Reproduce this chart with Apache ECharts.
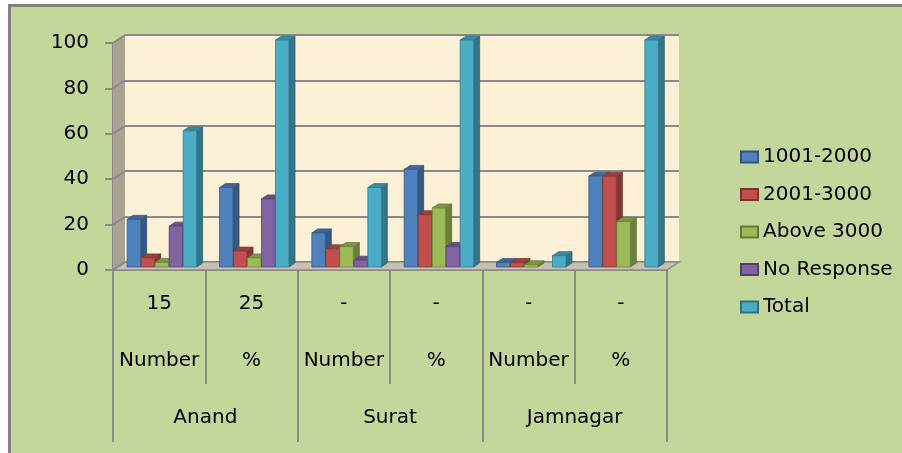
<!DOCTYPE html>
<html>
<head>
<meta charset="utf-8">
<script src="https://cdn.jsdelivr.net/npm/echarts@6/dist/echarts.min.js"></script>
<style>
  html, body { margin: 0; padding: 0; background: #ffffff; }
  #chart { width: 902px; height: 453px; }
</style>
</head>
<body>
<div id="chart"></div>
<script>
// ---- data ----
const CATEGORIES_TOP = ['15', '25', '-', '-', '-', '-'];
const CATEGORIES_MID = ['Number', '%', 'Number', '%', 'Number', '%'];
const CITIES = ['Anand', 'Surat', 'Jamnagar'];
const SERIES_NAMES = ['1001-2000', '2001-3000', 'Above 3000', 'No Response', 'Total'];
const S_1001_2000 = [21, 35, 15, 43, 2, 40];
const S_2001_3000 = [4, 7, 8, 23, 2, 40];
const S_ABOVE_3000 = [2, 4, 9, 26, 1, 20];
const S_NO_RESPONSE = [18, 30, 3, 9, 0, 0];
const S_TOTAL = [60, 100, 35, 100, 5, 100];
const Y_TICKS = [0, 20, 40, 60, 80, 100];

// ---- styling / layout ----
const COLORS = ['#4f81bd', '#c0504d', '#9bbb59', '#8064a2', '#4bacc6'];
const FONT = 'DejaVu Sans';
const GRAY = '#8a8a8a';
const FRONT = { left: 113, top: 43, width: 554, height: 227 };
const DEPTH_DX = 12, DEPTH_DY = -8;
const BAR_W = 13.5, BAR_PITCH = 14, BAR_SHIFT_X = 3, BAR_SHIFT_Y = -3;
const BAR_DX = 6, BAR_DY = -4;

const SERIES_VALUES = [S_1001_2000, S_2001_3000, S_ABOVE_3000, S_NO_RESPONSE, S_TOTAL];

function darken(hex, f) {
  const n = parseInt(hex.slice(1), 16);
  const r = Math.round(((n >> 16) & 255) * f);
  const g = Math.round(((n >> 8) & 255) * f);
  const b = Math.round((n & 255) * f);
  return 'rgb(' + r + ',' + g + ',' + b + ')';
}

function barRenderer(k) {
  return function (params, api) {
    const i = api.value(0), v = api.value(1);
    if (!v) return null;
    const base = api.coord([i, 0]);
    const top = api.coord([i, v]);
    const n = SERIES_VALUES.length;
    const x0 = base[0] + BAR_SHIFT_X - (n * BAR_PITCH) / 2 + k * BAR_PITCH;
    const x1 = x0 + BAR_W;
    const yb = base[1] + BAR_SHIFT_Y;
    const yt = top[1] + BAR_SHIFT_Y;
    const c = COLORS[k];
    const edge = darken(c, 0.7);
    return {
      type: 'group',
      children: [
        { type: 'polygon', shape: { points: [[x1, yt], [x1 + BAR_DX, yt + BAR_DY], [x1 + BAR_DX, yb + BAR_DY], [x1, yb]] },
          style: { fill: darken(c, 0.68), stroke: darken(c, 0.6), lineWidth: 0.8 } },
        { type: 'polygon', shape: { points: [[x0, yt], [x0 + BAR_DX, yt + BAR_DY], [x1 + BAR_DX, yt + BAR_DY], [x1, yt]] },
          style: { fill: darken(c, 0.8), stroke: edge, lineWidth: 0.8 } },
        { type: 'rect', shape: { x: x0, y: yt, width: BAR_W, height: yb - yt },
          style: { fill: c, stroke: edge, lineWidth: 0.8 } }
      ]
    };
  };
}

const barSeries = SERIES_NAMES.map((name, k) => ({
  name: name,
  type: 'custom',
  xAxisIndex: 0, yAxisIndex: 0,
  z: 5,
  itemStyle: { color: COLORS[k], borderColor: darken(COLORS[k], 0.65), borderWidth: 1.5 },
  renderItem: barRenderer(k),
  data: SERIES_VALUES[k].map((v, i) => [i, v])
}));

const wallLineSeries = {
  type: 'custom',
  xAxisIndex: 0, yAxisIndex: 0,
  z: 3,
  silent: true,
  renderItem: function (params, api) {
    const p = api.coord([0, api.value(1)]);
    const x = params.coordSys.x;
    return { type: 'line', shape: { x1: x, y1: p[1], x2: x + DEPTH_DX, y2: p[1] + DEPTH_DY },
      style: { stroke: GRAY, lineWidth: 2 } };
  },
  data: Y_TICKS.map(v => [0, v])
};

const L = FRONT.left, T = FRONT.top, R = FRONT.left + FRONT.width, B = FRONT.top + FRONT.height;

const option = {
  backgroundColor: '#ffffff',
  animation: false,
  textStyle: { fontFamily: FONT },
  graphic: [
    { type: 'rect', z: -100, shape: { x: 9.5, y: 5.5, width: 1000, height: 600 },
      style: { fill: '#c4d79b', stroke: '#808080', lineWidth: 3 } },
    { type: 'polygon', z: 1, shape: { points: [[L, T], [L + DEPTH_DX, T + DEPTH_DY], [L + DEPTH_DX, B + DEPTH_DY], [L, B]] },
      style: { fill: '#aba391' } },
    { type: 'polygon', z: 1, shape: { points: [[L, B], [L + DEPTH_DX, B + DEPTH_DY], [R + DEPTH_DX, B + DEPTH_DY], [R, B]] },
      style: { fill: '#c9c1b0', stroke: GRAY, lineWidth: 1.5 } }
  ],
  legend: {
    orient: 'vertical',
    left: 735, top: 142,
    itemWidth: 17, itemHeight: 11,
    itemGap: 17.5,
    icon: 'rect',
    data: SERIES_NAMES,
    textStyle: { fontFamily: FONT, fontSize: 20, color: '#000', lineHeight: 20 }
  },
  grid: [
    { left: FRONT.left, top: FRONT.top, width: FRONT.width, height: FRONT.height },
    { left: FRONT.left + DEPTH_DX, top: FRONT.top + DEPTH_DY, width: FRONT.width, height: FRONT.height,
      show: true, backgroundColor: '#fcf0d6', borderWidth: 0 },
    { left: FRONT.left, top: FRONT.top, width: FRONT.width, height: FRONT.height }
  ],
  xAxis: [
    { gridIndex: 0, type: 'category', data: CATEGORIES_TOP,
      axisLine: { show: true, lineStyle: { color: GRAY, width: 2 } },
      axisTick: { show: true, length: 114, lineStyle: { color: GRAY, width: 2 } },
      axisLabel: { interval: 0, margin: 5, fontSize: 20, lineHeight: 57, color: '#000', fontFamily: FONT,
        formatter: (v, i) => v + '\n' + CATEGORIES_MID[i] } },
    { gridIndex: 1, type: 'category', data: CATEGORIES_TOP, show: false },
    { gridIndex: 2, type: 'category', data: CITIES,
      axisLine: { show: false },
      axisTick: { show: true, length: 172, lineStyle: { color: GRAY, width: 2 } },
      axisLabel: { interval: 0, margin: 138, fontSize: 20, lineHeight: 20, color: '#000', fontFamily: FONT } }
  ],
  yAxis: [
    { gridIndex: 0, type: 'value', min: 0, max: 100, interval: 20,
      axisLine: { show: true, lineStyle: { color: GRAY, width: 2 } },
      axisTick: { show: true, length: 8, lineStyle: { color: GRAY, width: 2 } },
      splitLine: { show: false },
      axisLabel: { margin: 24, fontSize: 20, color: '#000', fontFamily: FONT } },
    { gridIndex: 1, type: 'value', min: 0, max: 100, interval: 20,
      axisLine: { show: false }, axisTick: { show: false }, axisLabel: { show: false },
      splitLine: { show: true, lineStyle: { color: GRAY, width: 2 } } },
    { gridIndex: 2, type: 'value', min: 0, max: 100, show: false }
  ],
  series: [wallLineSeries].concat(barSeries)
};

const chart = echarts.init(document.getElementById('chart'), null, { renderer: 'canvas' });
chart.setOption(option);
</script>
</body>
</html>
